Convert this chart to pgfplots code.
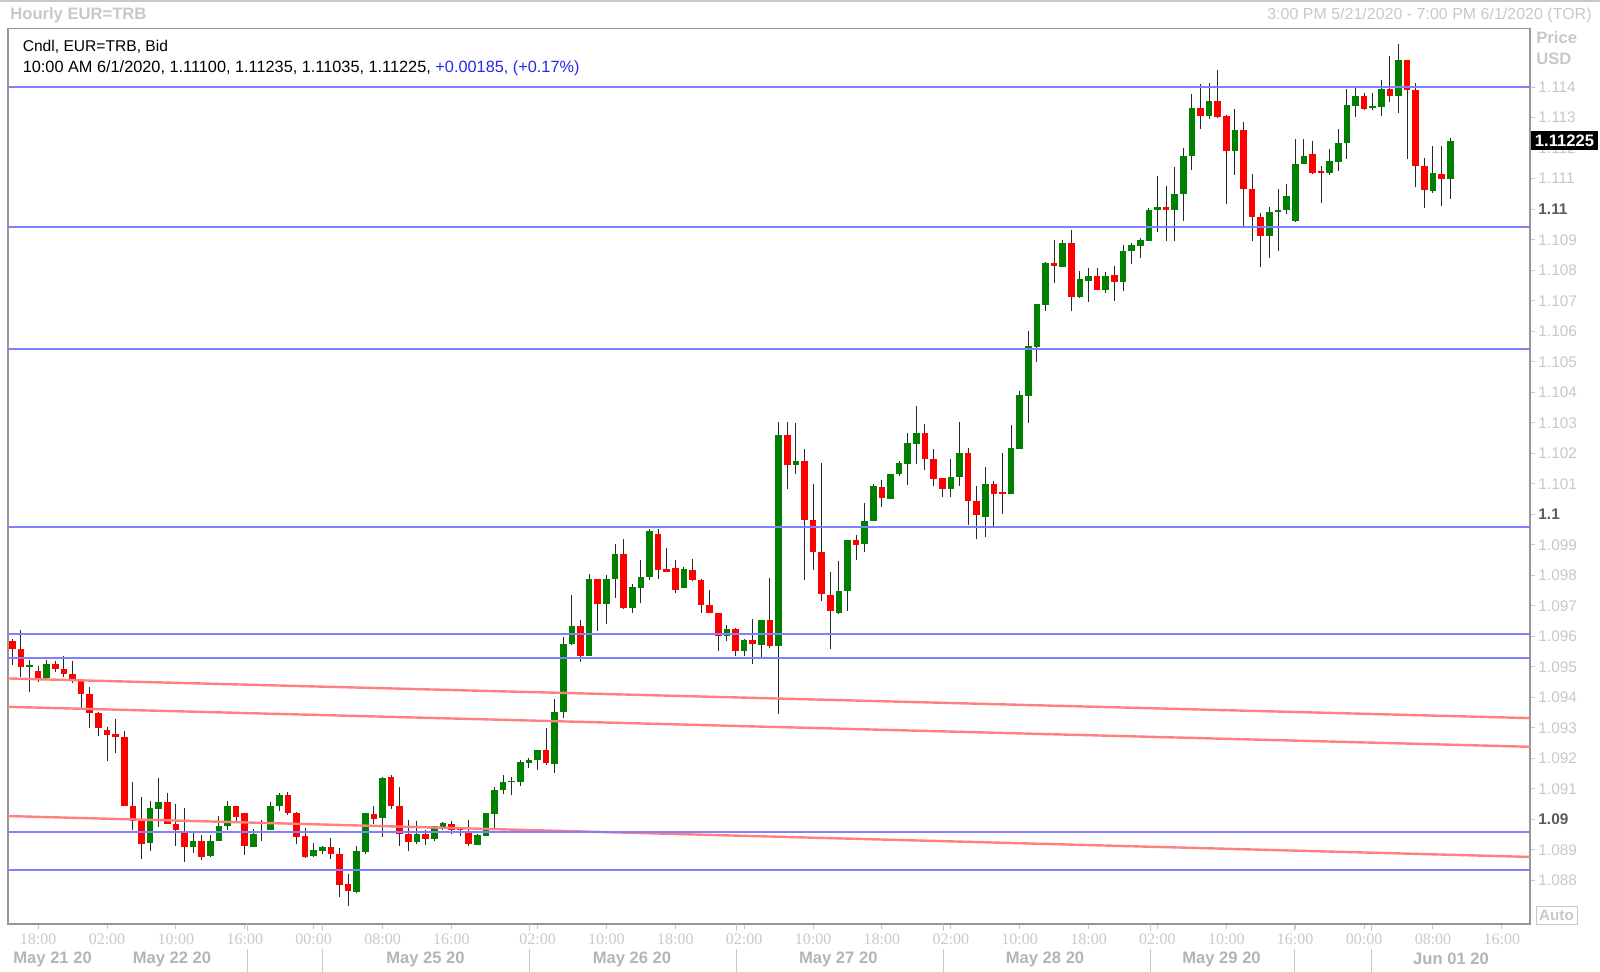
\documentclass[border=0pt]{standalone}
\usepackage{pgfplots}
\pgfplotsset{compat=1.18}
\usepackage{pgfplotstable}
\usepackage{fontspec}
\setmainfont{Liberation Sans}
\newfontfamily\timefont{Liberation Serif}
\newcommand\fs[1]{\fontsize{#1}{#1}\selectfont}

\definecolor{blueline}{RGB}{128,128,255}
\definecolor{redline}{RGB}{255,128,128}
\definecolor{cgreen}{RGB}{0,128,0}
\definecolor{cred}{RGB}{255,0,0}
\definecolor{wick}{RGB}{40,40,40}
\definecolor{lgray}{RGB}{200,200,200}
\definecolor{dgray}{RGB}{90,90,90}
\definecolor{framegray}{RGB}{150,150,150}
\definecolor{qblue}{RGB}{40,40,230}

% hourly candles: index, open, high, low, close
\pgfplotstableread{
i o h l c
0 1.09585 1.09593 1.09508 1.09560
1 1.09561 1.09621 1.09468 1.09500
2 1.09500 1.09522 1.09419 1.09504
3 1.09488 1.09504 1.09451 1.09464
4 1.09464 1.09522 1.09462 1.09511
5 1.09510 1.09520 1.09484 1.09494
6 1.09495 1.09538 1.09468 1.09479
7 1.09479 1.09520 1.09448 1.09460
8 1.09462 1.09462 1.09366 1.09412
9 1.09413 1.09435 1.09302 1.09350
10 1.09351 1.09351 1.09274 1.09301
11 1.09295 1.09304 1.09192 1.09278
12 1.09280 1.09328 1.09219 1.09269
13 1.09270 1.09290 1.09044 1.09044
14 1.09045 1.09124 1.08965 1.08995
15 1.08996 1.09074 1.08872 1.08919
16 1.08924 1.09061 1.08897 1.09036
17 1.09035 1.09137 1.08978 1.09056
18 1.09056 1.09089 1.08985 1.08985
19 1.08986 1.09050 1.08913 1.08965
20 1.08955 1.09036 1.08860 1.08909
21 1.08909 1.08962 1.08893 1.08930
22 1.08930 1.08949 1.08869 1.08878
23 1.08883 1.08949 1.08878 1.08930
24 1.08929 1.09011 1.08929 1.08979
25 1.08979 1.09061 1.08965 1.09045
26 1.09045 1.09045 1.08996 1.09009
27 1.09020 1.09020 1.08884 1.08913
28 1.08912 1.08971 1.08911 1.08955
29 1.08961 1.08998 1.08930 1.08963
30 1.08965 1.09056 1.08965 1.09045
31 1.09045 1.09088 1.09029 1.09080
32 1.09080 1.09089 1.09014 1.09020
33 1.09020 1.09025 1.08921 1.08943
34 1.08946 1.08971 1.08874 1.08878
35 1.08880 1.08925 1.08878 1.08900
36 1.08897 1.08914 1.08889 1.08911
37 1.08911 1.08938 1.08870 1.08887
38 1.08887 1.08905 1.08747 1.08788
39 1.08790 1.08821 1.08716 1.08765
40 1.08763 1.08914 1.08761 1.08896
41 1.08894 1.09024 1.08889 1.09022
42 1.09020 1.09046 1.08987 1.09003
43 1.09003 1.09140 1.08943 1.09137
44 1.09140 1.09145 1.09036 1.09044
45 1.09045 1.09105 1.08913 1.08954
46 1.08954 1.08998 1.08897 1.08929
47 1.08928 1.08996 1.08921 1.08954
48 1.08954 1.08967 1.08918 1.08937
49 1.08937 1.08979 1.08929 1.08979
50 1.08976 1.08992 1.08965 1.08989
51 1.08985 1.08996 1.08954 1.08965
52 1.08971 1.08976 1.08948 1.08970
53 1.08956 1.08998 1.08913 1.08921
54 1.08918 1.08954 1.08916 1.08949
55 1.08947 1.09020 1.08947 1.09020
56 1.09020 1.09105 1.08965 1.09098
57 1.09096 1.09145 1.09083 1.09124
58 1.09124 1.09140 1.09080 1.09126
59 1.09124 1.09195 1.09110 1.09188
60 1.09184 1.09203 1.09170 1.09195
61 1.09195 1.09228 1.09162 1.09228
62 1.09228 1.09302 1.09179 1.09184
63 1.09184 1.09395 1.09151 1.09354
64 1.09354 1.09599 1.09334 1.09577
65 1.09574 1.09736 1.09574 1.09635
66 1.09635 1.09654 1.09517 1.09537
67 1.09536 1.09805 1.09534 1.09788
68 1.09788 1.09788 1.09619 1.09709
69 1.09709 1.09801 1.09643 1.09788
70 1.09787 1.09902 1.09727 1.09870
71 1.09870 1.09921 1.09692 1.09692
72 1.09692 1.09772 1.09676 1.09761
73 1.09760 1.09851 1.09709 1.09794
74 1.09793 1.09953 1.09785 1.09946
75 1.09938 1.09953 1.09787 1.09818
76 1.09820 1.09889 1.09812 1.09812
77 1.09825 1.09851 1.09744 1.09752
78 1.09758 1.09829 1.09758 1.09820
79 1.09820 1.09854 1.09782 1.09787
80 1.09787 1.09787 1.09678 1.09703
81 1.09703 1.09754 1.09676 1.09676
82 1.09676 1.09679 1.09553 1.09602
83 1.09602 1.09639 1.09586 1.09626
84 1.09626 1.09629 1.09537 1.09553
85 1.09553 1.09594 1.09537 1.09588
86 1.09588 1.09659 1.09512 1.09575
87 1.09574 1.09654 1.09534 1.09654
88 1.09654 1.09794 1.09563 1.09569
89 1.09569 1.10304 1.09345 1.10260
90 1.10260 1.10303 1.10085 1.10164
91 1.10164 1.10300 1.10132 1.10175
92 1.10175 1.10216 1.09787 1.09983
93 1.09983 1.10101 1.09817 1.09877
94 1.09877 1.10169 1.09717 1.09738
95 1.09738 1.09813 1.09559 1.09684
96 1.09677 1.09850 1.09675 1.09750
97 1.09750 1.09918 1.09686 1.09918
98 1.09918 1.09935 1.09852 1.09902
99 1.09902 1.10036 1.09877 1.09978
100 1.09978 1.10101 1.09978 1.10094
101 1.10088 1.10114 1.10023 1.10052
102 1.10052 1.10134 1.10052 1.10134
103 1.10132 1.10176 1.10125 1.10169
104 1.10167 1.10268 1.10098 1.10235
105 1.10232 1.10355 1.10167 1.10268
106 1.10268 1.10296 1.10147 1.10182
107 1.10183 1.10216 1.10093 1.10117
108 1.10118 1.10118 1.10058 1.10083
109 1.10083 1.10183 1.10058 1.10124
110 1.10123 1.10303 1.10093 1.10203
111 1.10200 1.10218 1.09967 1.10043
112 1.10043 1.10093 1.09918 1.09999
113 1.09992 1.10154 1.09924 1.10099
114 1.10099 1.10112 1.09959 1.10069
115 1.10075 1.10202 1.10003 1.10068
116 1.10068 1.10295 1.10068 1.10218
117 1.10215 1.10404 1.10215 1.10393
118 1.10391 1.10601 1.10300 1.10553
119 1.10549 1.10689 1.10500 1.10689
120 1.10688 1.10828 1.10666 1.10825
121 1.10825 1.10899 1.10757 1.10814
122 1.10814 1.10899 1.10814 1.10890
123 1.10890 1.10934 1.10666 1.10713
124 1.10713 1.10798 1.10708 1.10773
125 1.10766 1.10808 1.10697 1.10783
126 1.10783 1.10808 1.10737 1.10737
127 1.10737 1.10794 1.10726 1.10783
128 1.10783 1.10815 1.10700 1.10763
129 1.10763 1.10883 1.10732 1.10864
130 1.10863 1.10890 1.10822 1.10883
131 1.10881 1.10908 1.10841 1.10899
132 1.10897 1.11003 1.10897 1.10999
133 1.10998 1.11109 1.10925 1.11009
134 1.11009 1.11076 1.10897 1.10998
135 1.10998 1.11140 1.10897 1.11052
136 1.11050 1.11200 1.10963 1.11175
137 1.11173 1.11380 1.11129 1.11331
138 1.11331 1.11410 1.11262 1.11307
139 1.11306 1.11416 1.11298 1.11355
140 1.11355 1.11457 1.11298 1.11304
141 1.11306 1.11309 1.11016 1.11191
142 1.11191 1.11331 1.11113 1.11260
143 1.11260 1.11287 1.10946 1.11067
144 1.11069 1.11115 1.10897 1.10976
145 1.10977 1.10988 1.10811 1.10913
146 1.10913 1.11008 1.10841 1.10992
147 1.10992 1.11067 1.10863 1.10997
148 1.10997 1.11082 1.10984 1.11043
149 1.10962 1.11230 1.10957 1.11148
150 1.11147 1.11230 1.11147 1.11174
151 1.11183 1.11223 1.11115 1.11119
152 1.11123 1.11142 1.11021 1.11122
153 1.11119 1.11199 1.11114 1.11158
154 1.11156 1.11265 1.11128 1.11218
155 1.11216 1.11396 1.11165 1.11341
156 1.11340 1.11396 1.11303 1.11373
157 1.11373 1.11383 1.11327 1.11330
158 1.11331 1.11383 1.11327 1.11338
159 1.11336 1.11423 1.11305 1.11396
160 1.11396 1.11505 1.11352 1.11372
161 1.11372 1.11543 1.11316 1.11491
162 1.11491 1.11491 1.11166 1.11390
163 1.11392 1.11414 1.11074 1.11141
164 1.11141 1.11169 1.11006 1.11063
165 1.11061 1.11209 1.11056 1.11117
166 1.11117 1.11209 1.11012 1.11098
167 1.11100 1.11235 1.11035 1.11225
}\candles

\begin{document}
\begin{tikzpicture}
\begin{axis}[
  at={(4pt,-462pt)}, anchor=south west,
  scale only axis, width=761pt, height=447.85pt,
  xmin=-0.5, xmax=176.27, ymin=1.086572, ymax=1.115929,
  axis line style={framegray, line width=0.6pt},
  tick align=outside, major tick length=2.5pt,
  tick style={lgray, line width=0.5pt},
  xtick pos=bottom, ytick pos=right, yticklabel pos=right,
  xtick={3,11,19,27,35,43,51,61,69,77,85,93,101,109,117,125,133,141,149,157,165,173},
  xticklabels={18:00,02:00,10:00,16:00,00:00,08:00,16:00,02:00,10:00,18:00,02:00,10:00,18:00,02:00,10:00,18:00,02:00,10:00,16:00,00:00,08:00,16:00},
  xticklabel style={font=\timefont\fs{8pt}, text=lgray, anchor=center, inner sep=0pt, yshift=-5pt},
  ytick={1.088,1.089,1.090,1.091,1.092,1.093,1.094,1.095,1.096,1.097,1.098,1.099,1.100,1.101,1.102,1.103,1.104,1.105,1.106,1.107,1.108,1.109,1.110,1.111,1.112,1.113,1.114},
  yticklabels={1.088,1.089,{\bfseries\color{dgray}1.09},1.091,1.092,1.093,1.094,1.095,1.096,1.097,1.098,1.099,{\bfseries\color{dgray}1.1},1.101,1.102,1.103,1.104,1.105,1.106,1.107,1.108,1.109,{\bfseries\color{dgray}1.11},1.111,1.112,1.113,1.114},
  yticklabel style={font=\fs{7.7pt}, text=lgray, anchor=west, inner sep=0pt, xshift=1.5pt},
]
% wicks
\addplot[draw=none, mark=none, error bars/.cd, y dir=both, y explicit, error mark=none,
  error bar style={draw=wick, line width=0.5pt}]
  table[x=i, y expr={(\thisrow{h}+\thisrow{l})/2}, y error expr={(\thisrow{h}-\thisrow{l})/2}] {\candles};
% rising bodies
\addplot[draw=none, mark=none, restrict expr to domain={\thisrow{c}-\thisrow{o}}{0:1},
  error bars/.cd, y dir=both, y explicit, error mark=none,
  error bar style={draw=cgreen, line width=3.3pt}]
  table[x=i, y expr={(\thisrow{o}+\thisrow{c})/2}, y error expr={max(abs(\thisrow{c}-\thisrow{o})/2,0.000025)}] {\candles};
% falling bodies
\addplot[draw=none, mark=none, restrict expr to domain={\thisrow{c}-\thisrow{o}}{-1:0},
  error bars/.cd, y dir=both, y explicit, error mark=none,
  error bar style={draw=cred, line width=3.3pt}]
  table[x=i, y expr={(\thisrow{o}+\thisrow{c})/2}, y error expr={max(abs(\thisrow{c}-\thisrow{o})/2,0.000025)}] {\candles};
% trend lines
\addplot[redline, line width=1.2pt] coordinates {(-0.5,1.09462) (176.27,1.09332)};
\addplot[redline, line width=1.2pt] coordinates {(-0.5,1.09369) (176.27,1.09238)};
\addplot[redline, line width=1.2pt] coordinates {(-0.5,1.09011) (176.27,1.08877)};
% horizontal levels
\addplot[blueline, line width=1pt] coordinates {(-0.5,1.11401) (176.27,1.11401)};
\addplot[blueline, line width=1pt] coordinates {(-0.5,1.10943) (176.27,1.10943)};
\addplot[blueline, line width=1pt] coordinates {(-0.5,1.10543) (176.27,1.10543)};
\addplot[blueline, line width=1pt] coordinates {(-0.5,1.09958) (176.27,1.09958)};
\addplot[blueline, line width=1pt] coordinates {(-0.5,1.09607) (176.27,1.09607)};
\addplot[blueline, line width=1pt] coordinates {(-0.5,1.09529) (176.27,1.09529)};
\addplot[blueline, line width=1pt] coordinates {(-0.5,1.08959) (176.27,1.08959)};
\addplot[blueline, line width=1pt] coordinates {(-0.5,1.08835) (176.27,1.08835)};
\end{axis}

\begin{scope}[x=0.5pt, y=-0.5pt]
\draw[lgray, line width=0.6pt] (0,1) -- (1600,1);
\node[anchor=west, inner sep=0pt, text=lgray, font=\bfseries\fs{8.3pt}] at (10,15) {Hourly EUR=TRB};
\node[anchor=east, inner sep=0pt, text=lgray, font=\fs{8pt}] at (1592,15) {3:00 PM 5/21/2020 - 7:00 PM 6/1/2020 (TOR)};
\node[anchor=west, inner sep=0pt, font=\fs{7.8pt}] at (22.4,47) {Cndl, EUR=TRB, Bid};
\node[anchor=west, inner sep=0pt, font=\fs{8.15pt}] at (22.4,68.4) {10:00 AM 6/1/2020, 1.11100, 1.11235, 1.11035, 1.11225, \textcolor{qblue}{+0.00185, (+0.17\%)}};
\node[anchor=west, inner sep=0pt, text=lgray, font=\bfseries\fs{8.3pt}] at (1536,38) {Price};
\node[anchor=west, inner sep=0pt, text=lgray, font=\bfseries\fs{8.3pt}] at (1536,59) {USD};
\fill[black] (1531,131) rectangle (1598,150);
\node[inner sep=0pt, text=white, font=\bfseries\fs{8.3pt}] at (1564.5,140.5) {1.11225};
\draw[lgray, line width=0.5pt] (1536,906) rectangle (1577,924);
\node[inner sep=0pt, text=lgray, font=\bfseries\fs{7.6pt}] at (1556.5,915) {Auto};
\foreach \sx in {247,322,529.6,736.7,943.9,1150,1294,1371}
  {\draw[lgray, line width=0.5pt] (\sx,924) -- (\sx,931);
   \draw[lgray, line width=0.5pt] (\sx,949) -- (\sx,972);}
\foreach \dx/\dl in {52.6/May 21 20, 172/May 22 20, 425.5/May 25 20, 632/May 26 20, 838.3/May 27 20, 1045/May 28 20, 1221.5/May 29 20, 1451/Jun 01 20}
  \node[inner sep=0pt, text=lgray!90!black, font=\bfseries\fs{8.3pt}] at (\dx,959) {\dl};
\end{scope}
\pgfresetboundingbox
\path[use as bounding box] (0pt,0pt) rectangle (800pt,-486pt);
\end{tikzpicture}
\end{document}
